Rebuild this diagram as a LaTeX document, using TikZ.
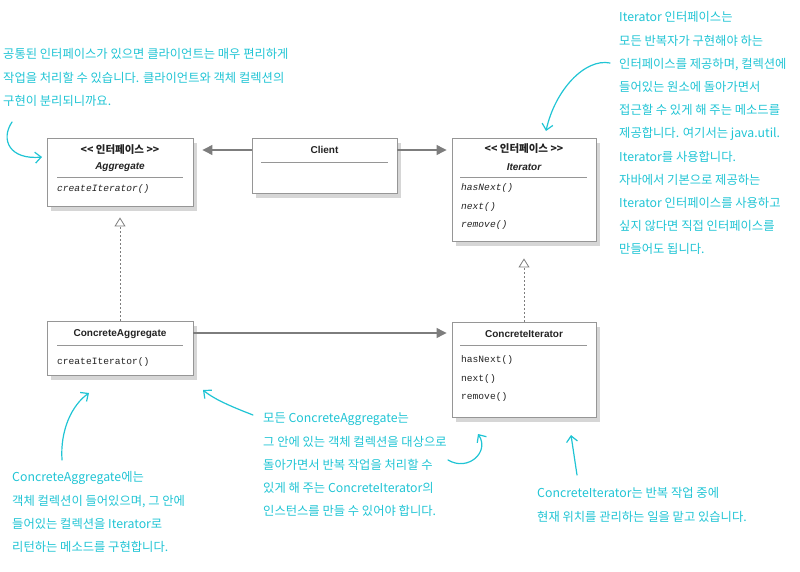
\documentclass[tikz,border=0pt]{standalone}
\usepackage{fontspec}
\setmainfont{Liberation Sans}
\newfontfamily\ko{Noto Sans CJK KR}
\newfontfamily\umlmono{Liberation Mono}
\usetikzlibrary{arrows.meta,shadows}
\definecolor{anno}{RGB}{32,196,212}
\definecolor{boxline}{RGB}{150,150,150}
\definecolor{shadowc}{RGB}{214,214,214}
\definecolor{conn}{RGB}{125,125,125}
\definecolor{umltext}{RGB}{35,35,35}
\tikzset{
 umlbox/.style={draw=boxline, line width=0.9pt, fill=white, inner sep=0pt,
   drop shadow={shadow xshift=4pt, shadow yshift=-5pt, fill=shadowc, opacity=1}},
 stereo/.style={font=\ko\bfseries\fontsize{10.5}{12}\selectfont, text=umltext, inner sep=0pt},
 cname/.style={font=\bfseries\fontsize{10}{12}\selectfont, text=umltext, inner sep=0pt},
 iname/.style={font=\bfseries\itshape\fontsize{10}{12}\selectfont, text=umltext, inner sep=0pt},
 meth/.style={font=\umlmono\fontsize{9.6}{11}\selectfont, anchor=west, inner sep=0pt, text=umltext},
 imeth/.style={meth, font=\umlmono\itshape\fontsize{9.6}{11}\selectfont},
 sepline/.style={draw=boxline, line width=0.8pt},
 assoc/.style={draw=conn, line width=1.2pt, -{Triangle[length=10pt,width=10pt]}},
 realize/.style={draw=conn, line width=0.8pt, dash pattern=on 2pt off 2pt,
   -{Triangle[open,length=9pt,width=11pt]}},
 note/.style={font=\ko\fontsize{12.3}{23.2}\selectfont, text=anno, align=left,
   anchor=north west, inner sep=0pt},
 hand/.style={draw=anno, line width=1.2pt, -{Straight Barb[length=6pt,width=11pt]}, line cap=round},
}
\begin{document}
\begin{tikzpicture}[x=1pt,y=-1pt]
\useasboundingbox (0,0) rectangle (800,572);

% boxes
\node[umlbox, minimum width=146pt, minimum height=68pt] (agg) at (120,172) {};
\node[umlbox, minimum width=145pt, minimum height=55pt] (client) at (324.5,165.5) {};
\node[umlbox, minimum width=144pt, minimum height=103pt] (iter) at (524,189.5) {};
\node[umlbox, minimum width=146pt, minimum height=54pt] (cagg) at (120,348) {};
\node[umlbox, minimum width=144pt, minimum height=95pt] (citer) at (524,369.5) {};

% Aggregate
\node[stereo] (aggst) at (120,150) {<\kern0pt< 인터페이스 >\kern0pt>};
\node[iname] (aggname) at (120,167) {Aggregate};
\draw[sepline] (57,177) -- (183,177);
\node[imeth] (aggm) at (57,189) {createIterator()};

% Client
\node[cname] (clname) at (324.5,150) {Client};
\draw[sepline] (261,162) -- (388,162);

% Iterator
\node[stereo] (itst) at (524,149) {<\kern0pt< 인터페이스 >\kern0pt>};
\node[iname] (itname) at (524,167) {Iterator};
\draw[sepline] (460,177) -- (587,177);
\node[imeth] (itm1) at (461,188) {hasNext()};
\node[imeth] (itm2) at (461,207) {next()};
\node[imeth] (itm3) at (461,225) {remove()};

% ConcreteAggregate
\node[cname] (caname) at (120,334) {ConcreteAggregate};
\draw[sepline] (57,345) -- (183,345);
\node[meth] (cam) at (57,362) {createIterator()};

% ConcreteIterator
\node[cname] (ciname) at (524,334) {ConcreteIterator};
\draw[sepline] (460,345) -- (587,345);
\node[meth] (cim1) at (461,360) {hasNext()};
\node[meth] (cim2) at (461,379) {next()};
\node[meth] (cim3) at (461,397) {remove()};

% connectors
\coordinate (row1) at (0,150);
\coordinate (row2) at (0,333);
\draw[assoc, shorten >=9pt] (client.west |- row1) -- (agg.east |- row1);
\draw[assoc, shorten >=5pt] (client.east |- row1) -- (iter.west |- row1);
\draw[assoc, shorten >=5pt] (cagg.east |- row2) -- (citer.west |- row2);
\draw[realize, shorten >=11pt] (cagg.north) -- (agg.south);
\draw[realize, shorten >=17pt] (citer.north) -- (iter.south);

% notes
\node[note] (ntl) at (3,48.5) {공통된 인터페이스가 있으면 클라이언트는 매우 편리하게\\작업을 처리할 수 있습니다. 클라이언트와 객체 컬렉션의\\구현이 분리되니까요.};
\node[note] (ntr) at (619,11.5) {Iterator 인터페이스는\\모든 반복자가 구현해야 하는\\인터페이스를 제공하며, 컬렉션에\\들어있는 원소에 돌아가면서\\접근할 수 있게 해 주는 메소드를\\제공합니다. 여기서는 java.util.\\Iterator를 사용합니다.\\자바에서 기본으로 제공하는\\Iterator 인터페이스를 사용하고\\싶지 않다면 직접 인터페이스를\\만들어도 됩니다.};
\node[note] (nbl) at (12,471.5) {ConcreteAggregate에는\\객체 컬렉션이 들어있으며, 그 안에\\들어있는 컬렉션을 Iterator로\\리턴하는 메소드를 구현합니다.};
\node[note] (nmid) at (263,413) {모든 ConcreteAggregate는\\그 안에 있는 객체 컬렉션을 대상으로\\돌아가면서 반복 작업을 처리할 수\\있게 해 주는 ConcreteIterator의\\인스턴스를 만들 수 있어야 합니다.};
\node[note] (nbr) at (537,487.5) {ConcreteIterator는 반복 작업 중에\\현재 위치를 관리하는 일을 맡고 있습니다.};

% hand-drawn arrows
\coordinate (h1s) at (12,122); \coordinate (h1e) at (42,157);
\draw[hand] (h1s) .. controls (0,140) and (10,160) .. (h1e);
\coordinate (h2s) at (610,63); \coordinate (h2e) at (546,131);
\draw[hand] (h2s) .. controls (585,58) and (555,90) .. (h2e);
\coordinate (h3s) at (62,460); \coordinate (h3e) at (89,393);
\draw[hand] (h3s) .. controls (60,430) and (72,405) .. (h3e);
\coordinate (h4s) at (253,415); \coordinate (h4e) at (203,390);
\draw[hand] (h4s) .. controls (235,408) and (215,400) .. (h4e);
\coordinate (h5s) at (448,460); \coordinate (h5e) at (478,434);
\draw[hand] (h5s) .. controls (468,472) and (490,452) .. (h5e);
\coordinate (h6s) at (577,475); \coordinate (h6e) at (571,435);
\draw[hand] (h6s) -- (h6e);
\end{tikzpicture}
\end{document}
